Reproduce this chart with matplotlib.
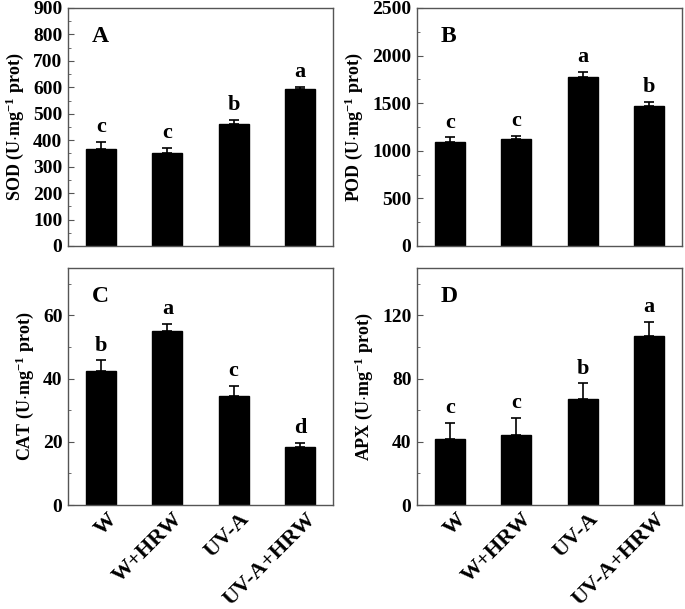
import matplotlib
matplotlib.use('Agg')
import matplotlib.pyplot as plt
from matplotlib.ticker import MultipleLocator
from matplotlib.transforms import ScaledTranslation

plt.rcParams['font.family'] = 'Liberation Serif'
plt.rcParams['font.weight'] = 'bold'
plt.rcParams['mathtext.fontset'] = 'custom'
plt.rcParams['mathtext.rm'] = 'Liberation Serif:bold'
plt.rcParams['mathtext.it'] = 'Liberation Serif:bold'
plt.rcParams['mathtext.bf'] = 'Liberation Serif:bold'

treatments = ['W', 'W+HRW', 'UV-A', 'UV-A+HRW']

sod = [365, 350, 460, 593]
sod_err = [28, 22, 18, 10]
sod_sig = ['c', 'c', 'b', 'a']

pod = [1095, 1125, 1770, 1470]
pod_err = [45, 35, 55, 40]
pod_sig = ['c', 'c', 'a', 'b']

cat = [42.5, 55.0, 34.5, 18.5]
cat_err = [3.3, 2.3, 3.2, 1.2]
cat_sig = ['b', 'a', 'c', 'd']

apx = [42, 44, 67, 107]
apx_err = [10, 11, 10, 9]
apx_sig = ['c', 'c', 'b', 'a']

W, H = 685, 609
fig = plt.figure(figsize=(W / 100, H / 100), dpi=100)

def box(l, t, r, b):
    return [l / W, (H - b) / H, (r - l) / W, (b - t) / H]

panels = [
    (box(68, 8, 333, 246), sod, sod_err, sod_sig, 'SOD', 'A', 900, 100, 50, False),
    (box(417, 8, 682, 246), pod, pod_err, pod_sig, 'POD', 'B', 2500, 500, 250, False),
    (box(68, 268, 333, 505), cat, cat_err, cat_sig, 'CAT', 'C', 75, 20, 10, True),
    (box(417, 268, 682, 505), apx, apx_err, apx_sig, 'APX', 'D', 150, 40, 20, True),
]

spine_col = '#555555'
x = range(len(treatments))
shift = ScaledTranslation(4 / 72, 0, fig.dpi_scale_trans)

for rect, vals, errs, sig, name, letter, ymax, major, minor, show_x in panels:
    ax = fig.add_axes(rect)
    ax.bar(x, vals, width=0.45, color='black', edgecolor='black')
    ax.errorbar(x, vals, yerr=[[0] * len(errs), errs], fmt='none',
                ecolor='black', elinewidth=1.2, capsize=3.5, capthick=1.2)
    for xi, v, e, s in zip(x, vals, errs, sig):
        ax.text(xi, v + e + ymax * 0.02, s, ha='center', va='bottom',
                fontsize=16, fontweight='bold')
    ax.text(0.09, 0.88, letter, transform=ax.transAxes, fontsize=17,
            fontweight='bold', ha='left', va='center')
    ax.set_xlim(-0.5, 3.5)
    ax.set_ylim(0, ymax)
    ax.yaxis.set_major_locator(MultipleLocator(major))
    ax.yaxis.set_minor_locator(MultipleLocator(minor))
    ax.tick_params(axis='y', which='both', direction='in', color=spine_col,
                   labelsize=14, pad=4)
    ax.tick_params(axis='y', which='major', length=4)
    ax.tick_params(axis='y', which='minor', length=2.5)
    ax.tick_params(axis='x', length=0, pad=3)
    for sp in ax.spines.values():
        sp.set_color(spine_col)
        sp.set_linewidth(1.0)
    ax.set_ylabel(name + r' (U$\cdot$mg$^{-1}$ prot)', fontsize=13,
                  fontweight='bold', labelpad=5)
    ax.set_xticks(list(x))
    if show_x:
        ax.set_xticklabels(treatments, rotation=45, ha='right',
                           rotation_mode='anchor', fontsize=16,
                           fontweight='bold')
        for lab in ax.get_xticklabels():
            lab.set_transform(lab.get_transform() + shift)
    else:
        ax.set_xticklabels([])

fig.savefig('out.png', dpi=100)
